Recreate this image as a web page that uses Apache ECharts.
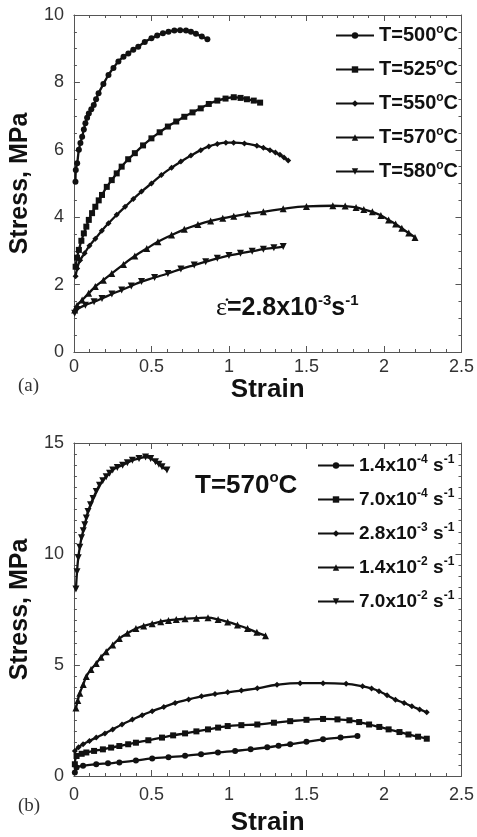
<!DOCTYPE html>
<html>
<head>
<meta charset="utf-8">
<script src="https://cdn.jsdelivr.net/npm/echarts@6/dist/echarts.min.js"></script>
<style>
  html, body { margin: 0; padding: 0; background: #fff; }
  #chart { width: 477px; height: 837px; }
</style>
</head>
<body>
<div id="chart"></div>
<script>
// (a) strain rate 2.8e-3 s-1, different temperatures  [strain, stress MPa]
const tempNames = ['T=500°C', 'T=525°C', 'T=550°C', 'T=570°C', 'T=580°C']
const t500 = [[0.01,5.05],[0.012,5.4],[0.021,5.6],[0.032,6.0],[0.042,6.2],[0.053,6.39],[0.064,6.6],[0.074,6.79],[0.085,6.95],[0.096,7.08],[0.112,7.2],[0.128,7.33],[0.143,7.5],[0.159,7.68],[0.19,7.95],[0.223,8.22],[0.255,8.43],[0.287,8.62],[0.32,8.76],[0.351,8.86],[0.383,8.97],[0.415,9.06],[0.457,9.2],[0.5,9.31],[0.537,9.39],[0.574,9.46],[0.61,9.5],[0.648,9.54],[0.685,9.55],[0.723,9.54],[0.755,9.5],[0.787,9.44],[0.825,9.36],[0.861,9.28]]
const t525 = [[0.011,2.53],[0.02,2.8],[0.032,3.03],[0.048,3.3],[0.064,3.52],[0.08,3.72],[0.096,3.92],[0.117,4.12],[0.138,4.31],[0.16,4.5],[0.181,4.66],[0.212,4.9],[0.244,5.1],[0.276,5.3],[0.308,5.5],[0.35,5.72],[0.393,5.9],[0.446,6.13],[0.5,6.34],[0.553,6.52],[0.606,6.69],[0.66,6.84],[0.712,6.98],[0.765,7.11],[0.818,7.23],[0.87,7.36],[0.925,7.46],[0.978,7.52],[1.031,7.56],[1.075,7.54],[1.116,7.5],[1.16,7.46],[1.201,7.4]]
const t550 = [[0.011,2.25],[0.021,2.48],[0.04,2.72],[0.069,2.93],[0.1,3.15],[0.138,3.36],[0.18,3.6],[0.223,3.82],[0.276,4.07],[0.33,4.31],[0.383,4.54],[0.436,4.76],[0.5,5.0],[0.564,5.25],[0.63,5.47],[0.69,5.65],[0.755,5.83],[0.818,5.99],[0.87,6.1],[0.925,6.17],[0.98,6.21],[1.03,6.21],[1.1,6.19],[1.18,6.12],[1.222,6.06],[1.265,5.99],[1.3,5.92],[1.329,5.85],[1.355,5.77],[1.382,5.68]]
const t570 = [[0.005,1.25],[0.02,1.38],[0.053,1.54],[0.095,1.74],[0.138,1.94],[0.19,2.13],[0.244,2.33],[0.32,2.6],[0.393,2.85],[0.47,3.07],[0.542,3.27],[0.63,3.47],[0.712,3.64],[0.8,3.78],[0.882,3.89],[0.96,3.97],[1.031,4.03],[1.12,4.1],[1.222,4.16],[1.35,4.25],[1.5,4.32],[1.67,4.34],[1.75,4.33],[1.82,4.29],[1.87,4.23],[1.925,4.16],[1.98,4.05],[2.03,3.92],[2.075,3.8],[2.115,3.67],[2.16,3.53],[2.2,3.4]]
const t580 = [[0.005,1.15],[0.02,1.26],[0.074,1.39],[0.13,1.49],[0.181,1.59],[0.245,1.72],[0.308,1.84],[0.37,1.96],[0.436,2.09],[0.52,2.21],[0.606,2.33],[0.69,2.46],[0.776,2.58],[0.85,2.68],[0.925,2.78],[1.0,2.86],[1.074,2.93],[1.15,2.99],[1.222,3.05],[1.29,3.09],[1.35,3.13]]

// (b) T=570°C, different strain rates
const rateBase = ['1.4', '7.0', '2.8', '1.4', '7.0']
const rateExp = ['-4', '-4', '-3', '-2', '-2']
const r14e4 = [[0.006,0.16],[0.017,0.38],[0.059,0.46],[0.144,0.53],[0.22,0.57],[0.293,0.61],[0.4,0.7],[0.505,0.79],[0.61,0.85],[0.717,0.91],[0.82,0.98],[0.929,1.06],[1.04,1.13],[1.14,1.2],[1.247,1.29],[1.32,1.36],[1.395,1.43],[1.5,1.54],[1.607,1.65],[1.72,1.73],[1.829,1.8]]
const r70e4 = [[0.006,0.53],[0.017,0.9],[0.05,1.0],[0.08,1.06],[0.13,1.13],[0.187,1.2],[0.24,1.28],[0.293,1.35],[0.35,1.43],[0.4,1.5],[0.48,1.61],[0.568,1.73],[0.64,1.83],[0.717,1.92],[0.79,2.01],[0.865,2.1],[0.93,2.18],[0.992,2.25],[1.08,2.29],[1.183,2.32],[1.29,2.4],[1.395,2.47],[1.5,2.53],[1.607,2.57],[1.7,2.55],[1.777,2.51],[1.84,2.43],[1.904,2.32],[1.97,2.21],[2.03,2.1],[2.1,1.98],[2.158,1.87],[2.22,1.77],[2.276,1.68]]
const r28e3 = [[0.006,1.13],[0.03,1.3],[0.059,1.43],[0.1,1.58],[0.144,1.73],[0.2,1.92],[0.25,2.1],[0.31,2.32],[0.377,2.54],[0.44,2.74],[0.505,2.92],[0.58,3.11],[0.653,3.29],[0.74,3.45],[0.823,3.59],[0.91,3.69],[0.992,3.77],[1.08,3.85],[1.183,3.95],[1.31,4.11],[1.459,4.18],[1.607,4.18],[1.756,4.15],[1.862,4.04],[1.92,3.94],[1.968,3.82],[2.02,3.64],[2.074,3.44],[2.13,3.29],[2.18,3.14],[2.23,3.0],[2.276,2.87]]
const r14e2 = [[0.013,3.06],[0.025,3.4],[0.038,3.73],[0.06,4.12],[0.08,4.48],[0.11,4.8],[0.144,5.07],[0.175,5.35],[0.208,5.6],[0.25,5.9],[0.293,6.19],[0.345,6.43],[0.4,6.64],[0.45,6.76],[0.505,6.86],[0.56,6.95],[0.61,7.01],[0.66,7.05],[0.717,7.08],[0.79,7.11],[0.865,7.13],[0.93,7.05],[0.992,6.94],[1.055,6.8],[1.12,6.64],[1.18,6.47],[1.236,6.32]]
const r70e2 = [[0.013,8.42],[0.02,9.2],[0.028,9.83],[0.038,10.3],[0.049,10.73],[0.06,11.05],[0.07,11.32],[0.08,11.62],[0.091,11.92],[0.107,12.22],[0.123,12.5],[0.144,12.82],[0.165,13.1],[0.186,13.3],[0.208,13.48],[0.23,13.64],[0.25,13.78],[0.28,13.9],[0.314,14.0],[0.345,14.11],[0.377,14.22],[0.42,14.3],[0.462,14.37],[0.495,14.3],[0.526,14.15],[0.548,14.04],[0.568,13.93],[0.6,13.78]]

const FONT = 'Liberation Sans, Arial, sans-serif'
const INK = '#111'
const AXIS = '#555'

const chart = echarts.init(document.getElementById('chart'))

function xAxisOf(grid, pos) {
  return {
    type: 'value', gridIndex: grid, position: pos, min: 0, max: 2.5, interval: 0.5,
    axisLine: { onZero: false, lineStyle: { color: AXIS, width: 1 } },
    axisTick: { inside: true, length: 6, lineStyle: { color: AXIS } },
    minorTick: { show: true, splitNumber: 5, length: 3, lineStyle: { color: AXIS } },
    splitLine: { show: false },
    axisLabel: { show: pos === 'bottom', fontSize: 18, color: '#333', fontFamily: FONT, margin: grid === 0 ? 6 : 10 },
    name: pos === 'bottom' ? 'Strain' : '',
    nameLocation: 'middle', nameGap: grid === 0 ? 25 : 34,
    nameTextStyle: { fontSize: 26, fontWeight: 'bold', color: INK, fontFamily: FONT }
  }
}

function yAxisOf(grid, pos, max, interval, minorSplit) {
  return {
    type: 'value', gridIndex: grid, position: pos, min: 0, max: max, interval: interval,
    axisLine: { onZero: false, lineStyle: { color: AXIS, width: 1 } },
    axisTick: { inside: true, length: 6, lineStyle: { color: AXIS } },
    minorTick: { show: true, splitNumber: minorSplit, length: 3, lineStyle: { color: AXIS } },
    splitLine: { show: false },
    axisLabel: { show: pos === 'left', fontSize: 18, color: '#333', fontFamily: FONT, margin: 10 },
    name: pos === 'left' ? 'Stress, MPa' : '',
    nameLocation: 'middle', nameGap: 31,
    nameTextStyle: { fontSize: 25, fontWeight: 'bold', color: INK, fontFamily: FONT }
  }
}

const symbols = [
  { symbol: 'circle', size: 6, rotate: 0 },
  { symbol: 'rect', size: 6, rotate: 0 },
  { symbol: 'diamond', size: 6, rotate: 0 },
  { symbol: 'triangle', size: 7, rotate: 0 },
  { symbol: 'triangle', size: 7, rotate: 180 }
]

function lineSeries(name, data, axisIdx, k) {
  return {
    name: name, type: 'line', data: data,
    xAxisIndex: axisIdx, yAxisIndex: axisIdx,
    smooth: true, symbol: symbols[k].symbol, symbolSize: symbols[k].size,
    symbolRotate: symbols[k].rotate, showSymbol: true,
    lineStyle: { color: INK, width: 2.3 }, itemStyle: { color: INK },
    silent: true
  }
}

const tempData = [t500, t525, t550, t570, t580]
const rateData = [r14e4, r70e4, r28e3, r14e2, r70e2]
const rateNames = rateBase.map((b, i) => b + 'x10' + rateExp[i] + ' s-1')

// superscripts raised with bottom padding
const legendText = { fontSize: 20, fontWeight: 'bold', color: INK, fontFamily: FONT,
  rich: { sup: { fontSize: 12, fontWeight: 'bold', color: INK, fontFamily: FONT, lineHeight: 12, padding: [0, 0, 11, 0] },
          m: { fontSize: 20, fontWeight: 'bold', color: INK, fontFamily: FONT, lineHeight: 20 } } }
const legendTextB = { fontSize: 19, fontWeight: 'bold', color: INK, fontFamily: FONT,
  rich: { sup: { fontSize: 12, fontWeight: 'bold', color: INK, fontFamily: FONT, lineHeight: 12, padding: [0, 0, 11, 0] },
          m: { fontSize: 19, fontWeight: 'bold', color: INK, fontFamily: FONT, lineHeight: 20 } } }

const option = {
  backgroundColor: '#fff',
  animation: false,
  grid: [
    { left: 70, top: 15, width: 392, height: 337 },
    { left: 69, top: 443, width: 393, height: 335 }
  ],
  xAxis: [xAxisOf(0, 'bottom'), xAxisOf(0, 'top'), xAxisOf(1, 'bottom'), xAxisOf(1, 'top')],
  yAxis: [yAxisOf(0, 'left', 10, 2, 4), yAxisOf(0, 'right', 10, 2, 4),
          yAxisOf(1, 'left', 15, 5, 10), yAxisOf(1, 'right', 15, 5, 10)],
  legend: [
    { data: tempNames, orient: 'vertical', left: 330, top: 19, itemWidth: 38, itemHeight: 8, itemGap: 11,
      textStyle: legendText,
      formatter: n => '{m|T=' + n.slice(2, 5) + '}{sup|o}{m|C}' },
    { data: rateNames, orient: 'vertical', left: 312, top: 449, itemWidth: 36, itemHeight: 8, itemGap: 11,
      textStyle: legendTextB,
      formatter: n => {
        const i = rateNames.indexOf(n)
        return '{m|' + rateBase[i] + 'x10}{sup|' + rateExp[i] + '}{m| s}{sup|-1}'
      } }
  ],
  series: [
    ...tempNames.map((n, k) => lineSeries(n, tempData[k], 0, k)),
    ...rateNames.map((n, k) => lineSeries(n, rateData[k], 2, k))
  ],
  graphic: [
    { type: 'text', left: 18, top: 377, style: { text: '(a)', fontSize: 19, fontFamily: 'Liberation Serif, serif', fill: '#333' } },
    { type: 'text', left: 18, top: 797, style: { text: '(b)', fontSize: 19, fontFamily: 'Liberation Serif, serif', fill: '#333' } },
    { type: 'text', left: 216, top: 293, style: {
        text: '{e|\u03b5\u0307}{m|=2.8x10}{s|-3}{m|s}{s|-1}',
        rich: {
          e: { fontSize: 26, fontFamily: 'Liberation Serif, serif', fill: INK, lineHeight: 28 },
          m: { fontSize: 25, fontWeight: 'bold', fontFamily: FONT, fill: INK, lineHeight: 28 },
          s: { fontSize: 15, fontWeight: 'bold', fontFamily: FONT, fill: INK, lineHeight: 15, padding: [0, 0, 16, 0] }
        } } },
    { type: 'text', left: 195, top: 470, style: {
        text: '{m|T=570}{s|o}{m|C}',
        rich: {
          m: { fontSize: 26, fontWeight: 'bold', fontFamily: FONT, fill: INK, lineHeight: 28 },
          s: { fontSize: 15, fontWeight: 'bold', fontFamily: FONT, fill: INK, lineHeight: 15, padding: [0, 0, 16, 0] }
        } } }
  ]
}

chart.setOption(option)
</script>
</body>
</html>
